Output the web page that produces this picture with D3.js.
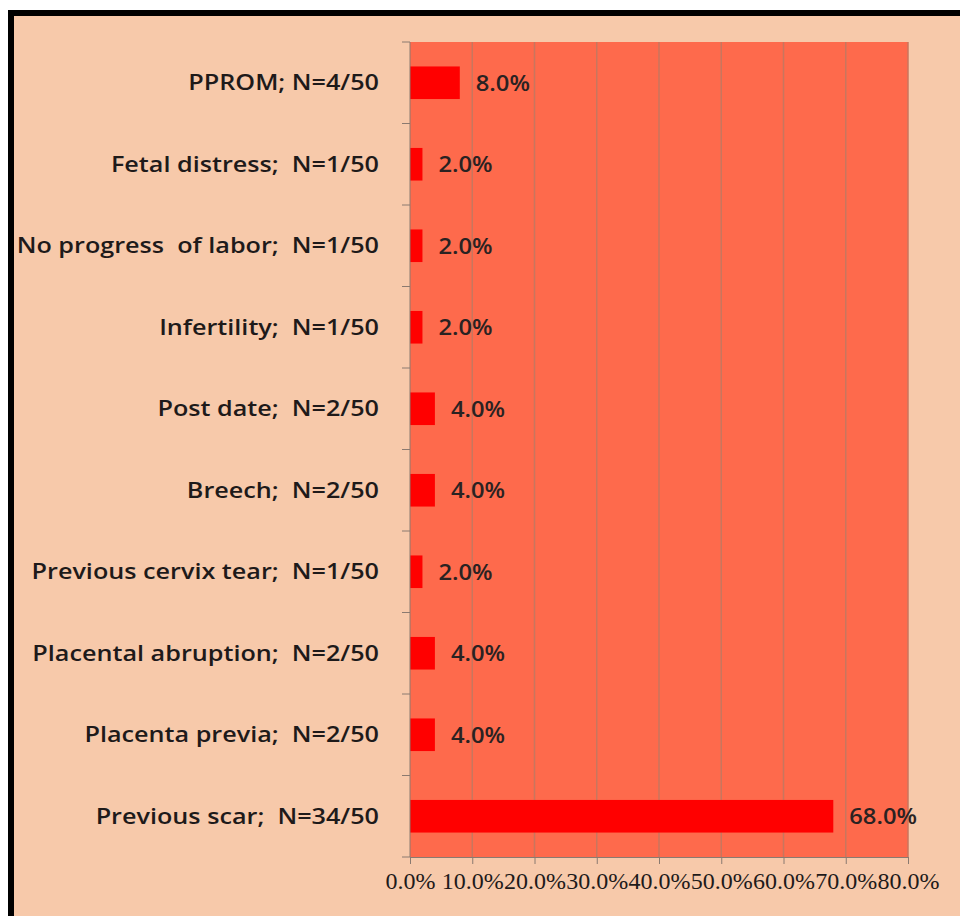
<!DOCTYPE html>
<html>
<head>
<meta charset="utf-8">
<script src="https://cdn.jsdelivr.net/npm/d3@7"></script>
<style>
  body { margin: 0; background: #ffffff; }
  svg { display: block; }
</style>
</head>
<body>
<div class="chart"></div>
<script>
// data, top to bottom as drawn
var categories = [
  "PPROM; N=4/50",
  "Fetal distress;  N=1/50",
  "No progress  of labor;  N=1/50",
  "Infertility;  N=1/50",
  "Post date;  N=2/50",
  "Breech;  N=2/50",
  "Previous cervix tear;  N=1/50",
  "Placental abruption;  N=2/50",
  "Placenta previa;  N=2/50",
  "Previous scar;  N=34/50"
];
var values = [8.0, 2.0, 2.0, 2.0, 4.0, 4.0, 2.0, 4.0, 4.0, 68.0];
var xTicks = [0, 10, 20, 30, 40, 50, 60, 70, 80];

var W = 960, H = 916;
var margin = {top: 42, right: 52, bottom: 59, left: 410},
    width = W - margin.left - margin.right,
    height = H - margin.top - margin.bottom;

var svg = d3.select(".chart").append("svg")
    .attr("width", W)
    .attr("height", H);

// page background + black frame
svg.append("rect")
    .attr("x", 11).attr("y", 13)
    .attr("width", W + 20).attr("height", H + 20)
    .attr("fill", "#f7c9aa")
    .attr("stroke", "#000")
    .attr("stroke-width", 6);

var g = svg.append("g")
    .attr("transform", "translate(" + margin.left + "," + margin.top + ")");

// scales
var x = d3.scaleLinear().domain([0, 80]).range([0, width]);
var y = d3.scaleBand().domain(categories).range([0, height]).paddingInner(0.6).paddingOuter(0.3);

// plot area
g.append("rect")
    .attr("width", width).attr("height", height)
    .attr("fill", "#fe6a4c");

// gridlines
g.selectAll(".grid")
    .data(xTicks.slice(1))
    .enter().append("line")
    .attr("x1", function(d) { return x(d); })
    .attr("x2", function(d) { return x(d); })
    .attr("y1", 0).attr("y2", height)
    .attr("stroke", "#c8765e")
    .attr("stroke-width", 1.5);

// bars
g.selectAll(".bar")
    .data(values)
    .enter().append("rect")
    .attr("x", 0)
    .attr("y", function(d, i) { return y(categories[i]); })
    .attr("width", function(d) { return x(d); })
    .attr("height", y.bandwidth())
    .attr("fill", "#ff0000");

// value labels (the original text is a bit stretched sideways)
g.selectAll(".lbl")
    .data(values)
    .enter().append("text")
    .attr("transform", function(d, i) {
        return "translate(" + (x(d) + 16) + "," + (y(categories[i]) + y.bandwidth() / 2) + ") scale(1.08,1)";
    })
    .attr("dy", "0.36em")
    .attr("font-family", "'Open Sans', sans-serif")
    .attr("font-weight", 600)
    .attr("font-size", 22)
    .attr("fill", "#2a2222")
    .text(function(d) { return d.toFixed(1) + "%"; });

// y axis: ticks at band boundaries
var yAxis = g.append("g");
yAxis.append("line")
    .attr("x1", 0).attr("x2", 0).attr("y1", 0).attr("y2", height)
    .attr("stroke", "#8a7a70").attr("stroke-width", 1);
var step = height / categories.length;
yAxis.selectAll(".tk")
    .data(d3.range(categories.length + 1))
    .enter().append("line")
    .attr("x1", -8).attr("x2", 0)
    .attr("y1", function(d) { return d * step; })
    .attr("y2", function(d) { return d * step; })
    .attr("stroke", "#8a7a70");
yAxis.selectAll(".cat")
    .data(categories)
    .enter().append("text")
    .attr("transform", function(d) {
        return "translate(-31," + (y(d) + y.bandwidth() / 2) + ") scale(1.2,1)";
    })
    .attr("dy", "0.36em")
    .attr("text-anchor", "end")
    .attr("font-family", "'Open Sans', sans-serif")
    .attr("font-weight", 600)
    .attr("font-size", 21)
    .attr("fill", "#1e1a1a")
    .attr("xml:space", "preserve")
    .style("white-space", "pre")
    .text(function(d) { return d; });

// x axis
var xAxis = g.append("g")
    .attr("transform", "translate(0," + height + ")")
    .call(d3.axisBottom(x).tickValues(xTicks).tickSize(7).tickPadding(8)
        .tickFormat(function(d) { return d.toFixed(1) + "%"; }));
xAxis.select(".domain").attr("stroke", "#8a7a70");
xAxis.selectAll(".tick line").attr("stroke", "#8a7a70");
xAxis.selectAll(".tick text")
    .attr("font-family", "'Liberation Serif', 'DejaVu Serif', serif")
    .attr("font-size", 24)
    .attr("fill", "#1e1a1a");
</script>
</body>
</html>
